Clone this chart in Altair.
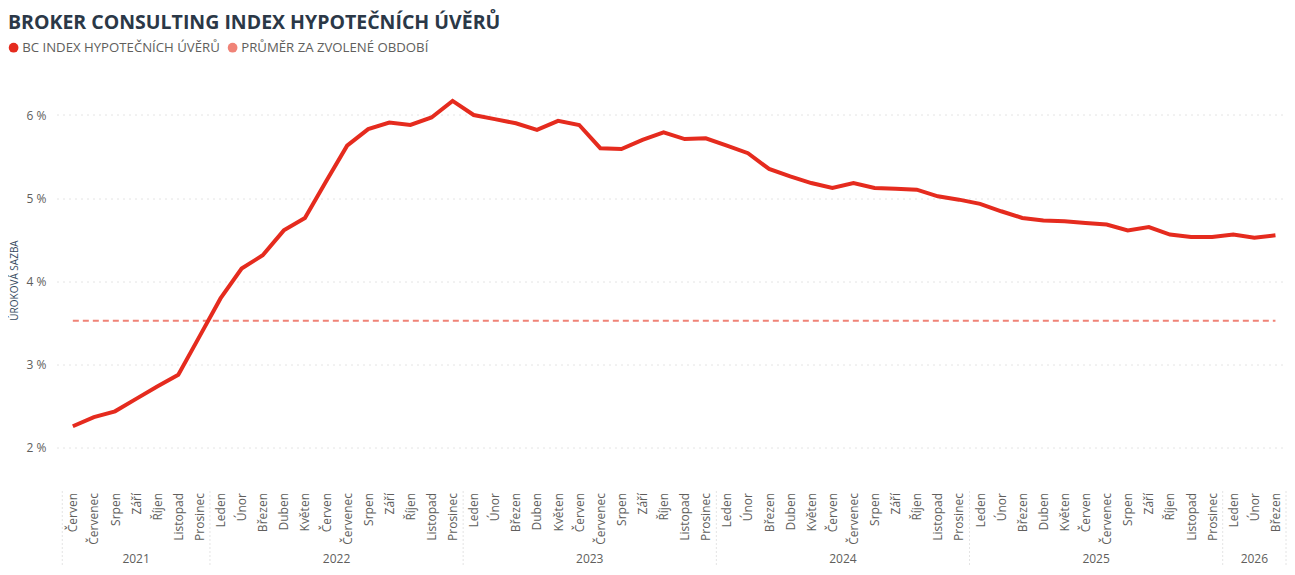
import json
import altair as alt
import pandas as pd

TITLE = "BROKER CONSULTING INDEX HYPOTEČNÍCH ÚVĚRŮ"
SERIES = ["BC INDEX HYPOTEČNÍCH ÚVĚRŮ", "PRŮMĚR ZA ZVOLENÉ OBDOBÍ"]
COLORS = ["#e52b1e", "#f08377"]
Y_TITLE = "ÚROKOVÁ SAZBA"
MONTHS = ["Leden", "Únor", "Březen", "Duben", "Květen", "Červen",
          "Červenec", "Srpen", "Září", "Říjen", "Listopad", "Prosinec"]
YEARS = [2021, 2022, 2023, 2024, 2025, 2026]
MONTH_COUNTS = [7, 12, 12, 12, 12, 3]
MONTH_LABELS = MONTHS[5:] + MONTHS + MONTHS + MONTHS + MONTHS + MONTHS[:3]
RATES = [2.25, 2.36, 2.43, 2.58, 2.73, 2.87, 3.33,
         3.79, 4.15, 4.31, 4.61, 4.76, 5.20, 5.63, 5.83, 5.91, 5.88, 5.97, 6.17,
         6.00, 5.95, 5.90, 5.82, 5.93, 5.88, 5.60, 5.59, 5.70, 5.79, 5.71, 5.72,
         5.63, 5.54, 5.35, 5.26, 5.18, 5.12, 5.18, 5.12, 5.11, 5.10, 5.02, 4.98,
         4.93, 4.84, 4.76, 4.73, 4.72, 4.70, 4.68, 4.61, 4.65, 4.56, 4.53, 4.53,
         4.56, 4.52, 4.55]
AVERAGE = 3.52
Y_TICKS = [2, 3, 4, 5, 6]

FONT = "Open Sans"
GRAY = "#605e5c"

year_col = []
for y, c in zip(YEARS, MONTH_COUNTS):
    year_col += [y] * c
n = len(RATES)

df = pd.DataFrame({"idx": list(range(n)), "month": MONTH_LABELS, "year": year_col,
                   "value": RATES})
df_avg = pd.DataFrame({"idx": [0, n - 1], "value": [AVERAGE, AVERAGE]})
df_leg = pd.DataFrame({"idx": [0, 0], "value": [AVERAGE, AVERAGE], "series": SERIES})

bounds = [-0.5]
for c in MONTH_COUNTS:
    bounds.append(bounds[-1] + c)
df_sep = pd.DataFrame({"idx": bounds})
df_years = pd.DataFrame({"year": [str(y) for y in YEARS],
                         "idx": [(bounds[i] + bounds[i + 1]) / 2 for i in range(len(YEARS))]})
df_title = pd.DataFrame({"t": [TITLE]})

xscale = alt.Scale(domain=[-0.75, n - 0.5], nice=False, zero=False)
yscale = alt.Scale(domain=[1.5, 6.5], nice=False, zero=False)
cscale = alt.Scale(domain=SERIES, range=COLORS)

label_expr = json.dumps(MONTH_LABELS, ensure_ascii=False) + "[datum.value]"

x_axis = alt.Axis(values=list(range(n)), labelExpr=label_expr, labelAngle=270,
                  labelAlign="right", labelBaseline="middle", ticks=False, domain=False,
                  grid=False, labelPadding=4, labelFontSize=12, labelColor=GRAY,
                  labelFont=FONT, title=None, labelOverlap=False, labelFlush=False)
y_axis = alt.Axis(values=Y_TICKS, labelExpr="datum.value + ' %'", grid=True,
                  gridDash=[1, 5], gridColor="#c8c8c8", gridWidth=1, domain=False,
                  ticks=False, labelPadding=11, labelFontSize=12, labelColor=GRAY,
                  labelFont=FONT, title=Y_TITLE, titleFontSize=10, titleFont=FONT,
                  titleFontWeight="normal", titleColor="#34495e", titleAngle=270,
                  titleX=-43, titleY=206.5, titleAlign="center", titleBaseline="middle")

X = alt.X("idx:Q", scale=xscale, axis=x_axis)
Y = alt.Y("value:Q", scale=yscale, axis=y_axis)

main = alt.Chart(df).mark_line(strokeWidth=4, color=COLORS[0]).encode(x=X, y=Y)

avg = alt.Chart(df_avg).mark_line(strokeWidth=2, strokeDash=[6, 4], color=COLORS[1]).encode(x=X, y=Y)

legend_layer = alt.Chart(df_leg).transform_filter("false").mark_point(filled=True, opacity=1).encode(
    x=X, y=Y,
    color=alt.Color("series:N", scale=cscale, legend=alt.Legend(
        orient="none", legendX=-50, legendY=-32.5, direction="horizontal", title=None,
        symbolType="circle", symbolSize=95, symbolStrokeWidth=0, labelFontSize=13.2,
        labelFont=FONT, labelColor=GRAY, columnPadding=6, labelOffset=2, padding=0,
        labelLimit=400)),
)

seps = alt.Chart(df_sep).mark_rule(color="#c8c8c8", strokeDash=[1, 3], strokeWidth=1).encode(
    x=X, y=alt.value(418), y2=alt.value(510),
)

years = alt.Chart(df_years).mark_text(fontSize=12, font=FONT, color=GRAY,
                                      baseline="middle", align="center").encode(
    x=X, y=alt.value(485.5), text="year:N",
)

title = alt.Chart(df_title).mark_text(fontSize=19.5, font=FONT, fontWeight="bold",
                                      color="#2b3847", align="left", baseline="alphabetic").encode(
    x=alt.value(-49), y=alt.value(-44.5), text="t:N",
)

chart = alt.layer(legend_layer, seps, avg, main, years, title).properties(
    width=1229, height=415,
    autosize=alt.AutoSizeParams(type="none"),
    padding={"left": 49, "top": 65.5, "right": 1, "bottom": 78.5},
    background="white",
).configure_view(stroke=None)

chart.save("out.html", embed_options={"renderer": "svg", "actions": False})
